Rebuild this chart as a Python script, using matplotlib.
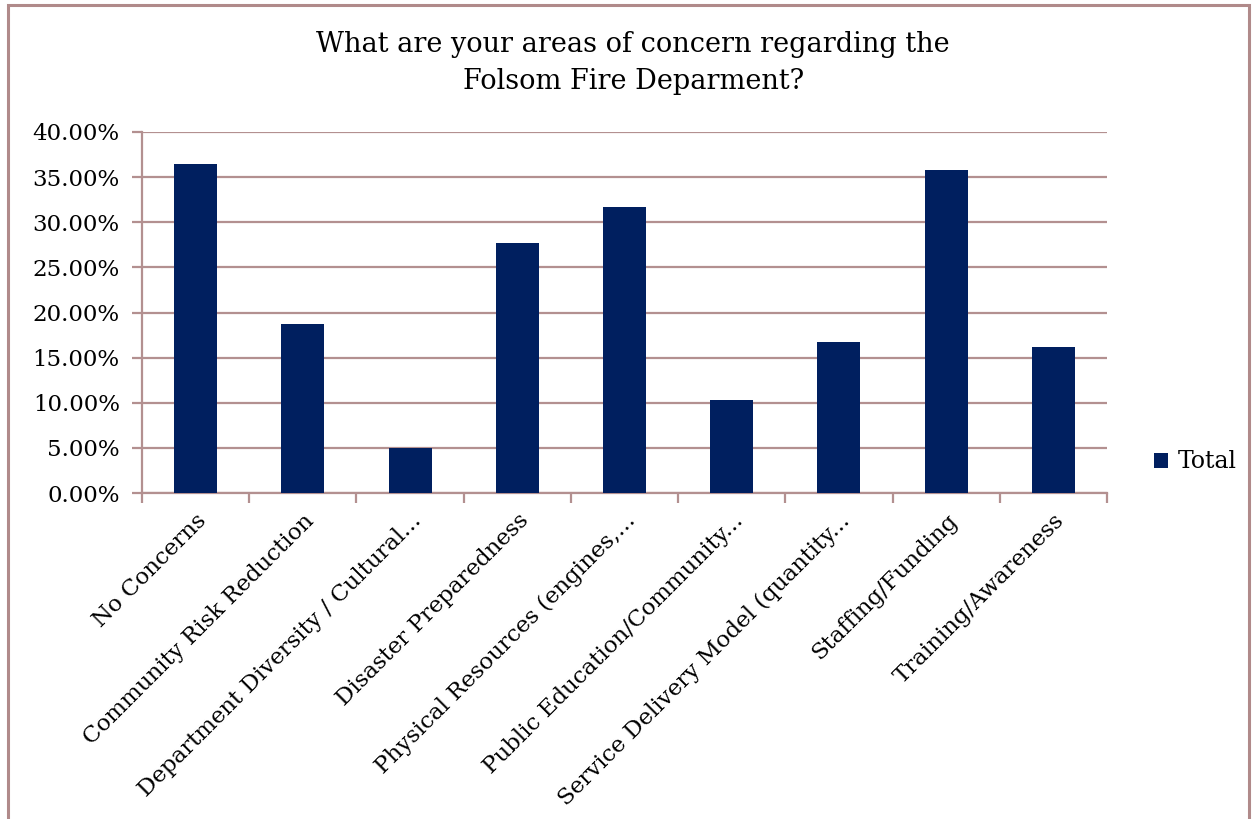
import numpy as np
import matplotlib as mpl
mpl.use('Agg')
import matplotlib.pyplot as plt
from matplotlib.patches import Rectangle

# data
categories = ['No Concerns', 'Community Risk Reduction', 'Department Diversity / Cultural...',
              'Disaster Preparedness', 'Physical Resources (engines,...',
              'Public Education/Community...', 'Service Delivery Model (quantity...',
              'Staffing/Funding', 'Training/Awareness']
totals = [36.45, 18.75, 5.0, 27.7, 31.65, 10.35, 16.75, 35.8, 16.2]
yticks = [0, 5, 10, 15, 20, 25, 30, 35, 40]
series_name = 'Total'

bar_color = '#001f5f'
line_color = '#b39090'
plt.rcParams['font.family'] = ['DejaVu Serif']

fig = plt.figure(figsize=(12.54, 8.19), dpi=100)
# outer chart border (bottom runs off the image)
fig.patches.append(Rectangle((8/1254, -0.05), (1249-8)/1254, 1.05 - 5/819,
                             transform=fig.transFigure, fill=False,
                             edgecolor='#b08a8a', linewidth=2.2))

ax = fig.add_axes([142/1254, 1-493/819, (1107-142)/1254, (493-132)/819])
x = np.arange(len(categories))
ax.bar(x, totals, width=0.4, color=bar_color, label=series_name, zorder=3)

ax.set_xlim(-0.5, len(categories)-0.5)
ax.set_ylim(0, 40)
ax.set_yticks(yticks)
ax.set_yticklabels(['%.2f%%' % v for v in yticks], fontsize=16.5)
ax.yaxis.grid(True, color=line_color, linewidth=1.6, zorder=0)
ax.set_axisbelow(True)

# x ticks between categories, labels at the centers
ax.set_xticks(np.arange(-0.5, len(categories)), minor=False)
ax.set_xticklabels([])
ax.set_xticks(x, minor=True)
ax.set_xticklabels(categories, minor=True, rotation=45, ha='right',
                   rotation_mode='anchor', fontsize=16.5)
ax.tick_params(axis='x', which='minor', length=0, pad=12)
ax.tick_params(axis='x', which='major', length=7, width=1.6, color=line_color)
ax.tick_params(axis='y', length=7, width=1.6, color=line_color, pad=9)

for s in ['top', 'right']:
    ax.spines[s].set_visible(False)
for s in ['left', 'bottom']:
    ax.spines[s].set_color(line_color)
    ax.spines[s].set_linewidth(1.6)

fig.text(0.505, 1-63/819, 'What are your areas of concern regarding the\nFolsom Fire Deparment?',
         ha='center', va='center', fontsize=19.5, linespacing=1.45)

ax.legend(loc='center left', bbox_to_anchor=(1133/1254, 1-462/819),
          bbox_transform=fig.transFigure, frameon=False, fontsize=17,
          handlelength=0.6, handleheight=0.6, handletextpad=0.4)

fig.savefig('out.png', dpi=100)
